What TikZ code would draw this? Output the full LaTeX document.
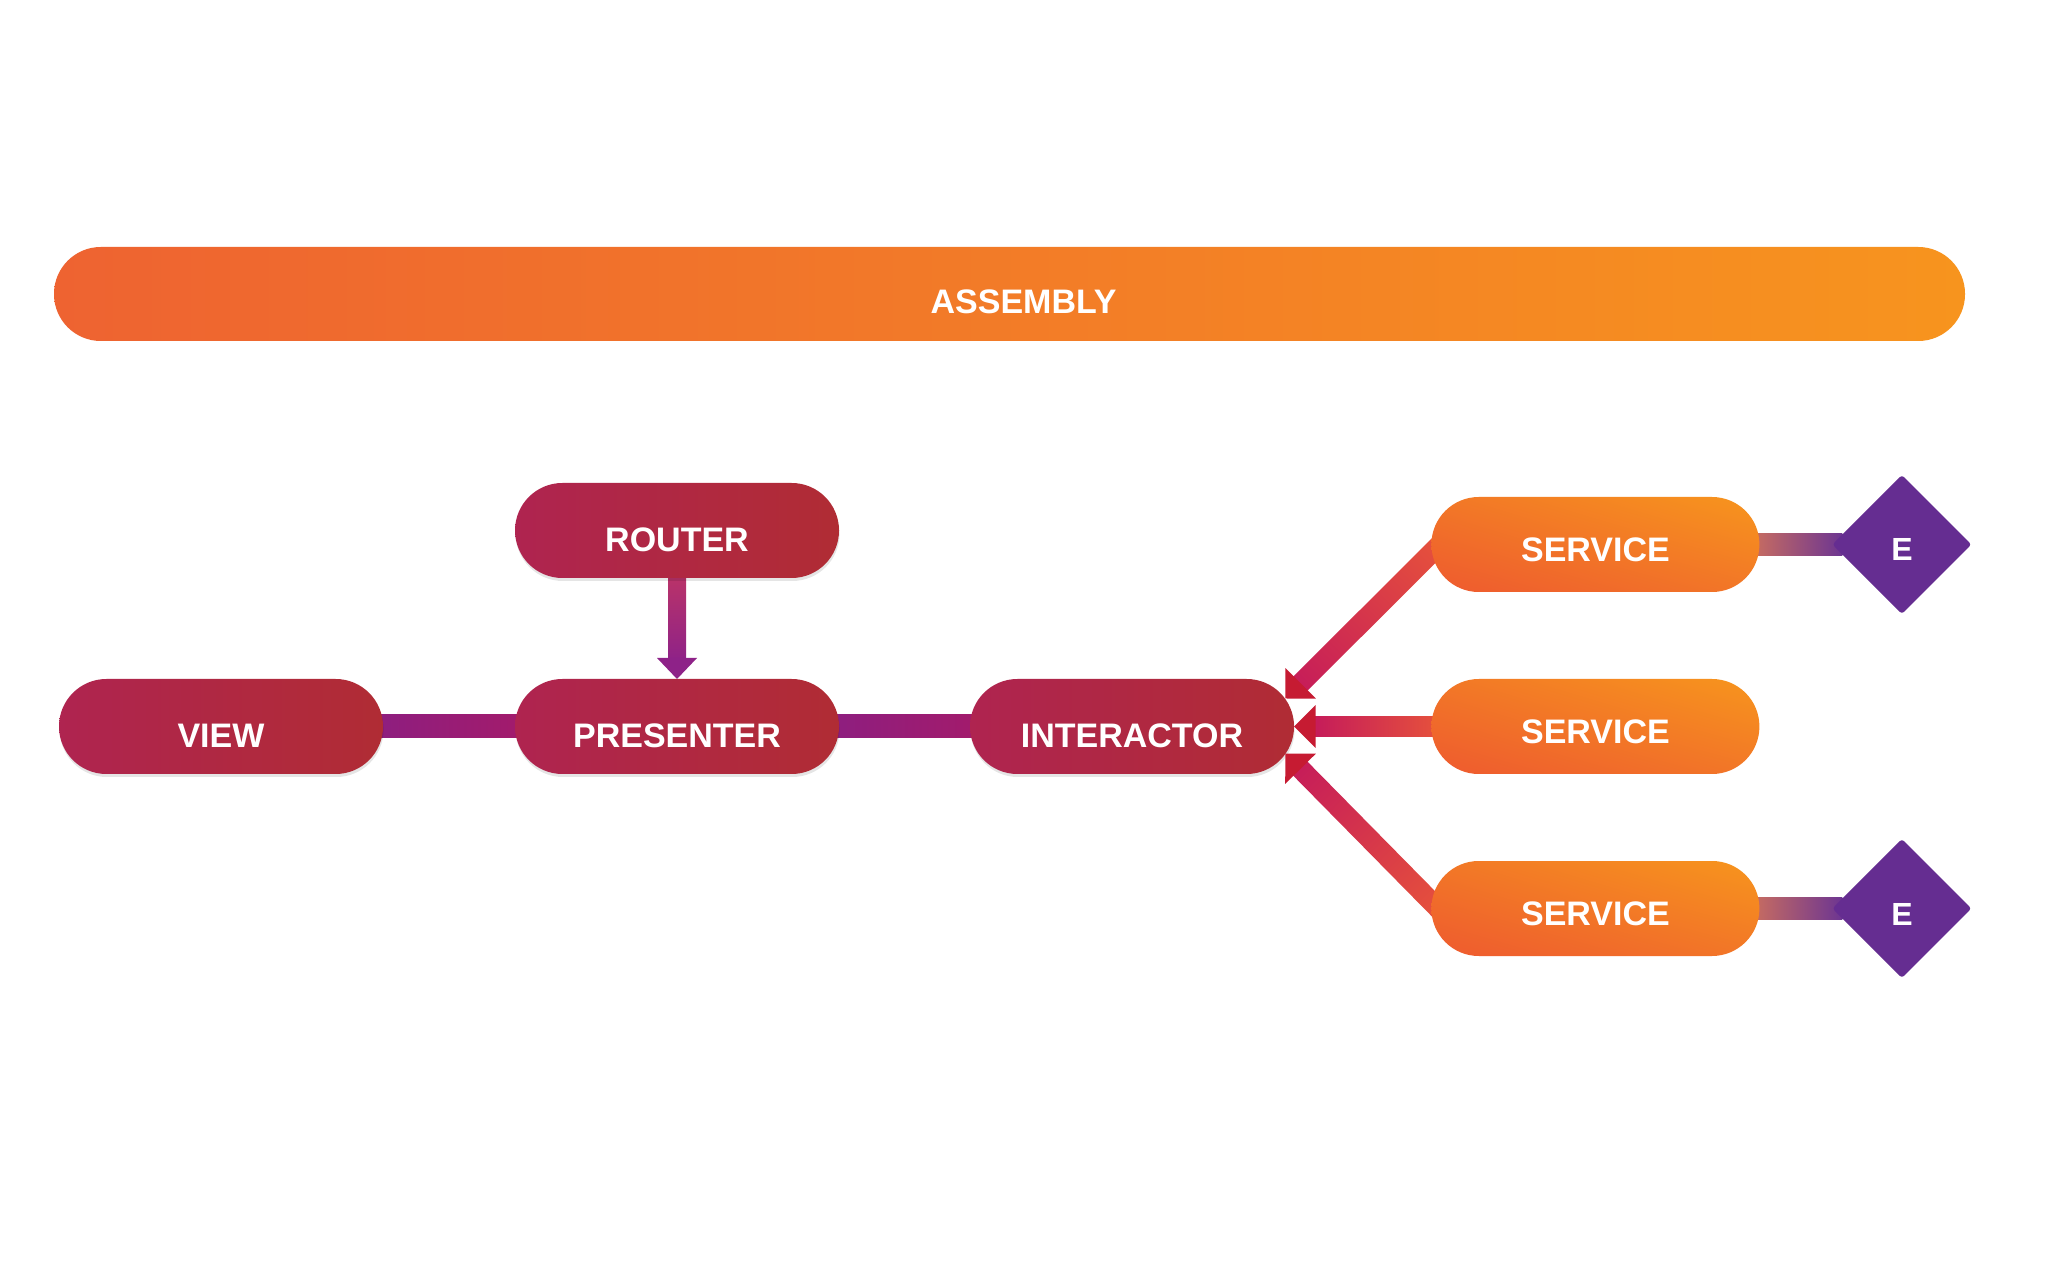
\documentclass[tikz,border=0pt]{standalone}
\usepackage{fontspec}
\setmainfont{Liberation Sans}
\usetikzlibrary{calc,positioning,backgrounds,shapes.geometric,shadows,shadings}

\definecolor{layerL}{HTML}{AF2450}
\definecolor{layerR}{HTML}{B02C34}
\definecolor{svcLL}{HTML}{EE5A2F}
\definecolor{svcMid}{HTML}{F27727}
\definecolor{svcUR}{HTML}{F7951D}
\definecolor{asmL}{HTML}{EE6331}
\definecolor{asmR}{HTML}{F7941E}
\definecolor{linkL}{HTML}{8D1E80}
\definecolor{linkR}{HTML}{A31B6B}
\definecolor{routeT}{HTML}{BC3467}
\definecolor{routeB}{HTML}{8E2288}
\definecolor{tipC}{HTML}{C41A5B}
\definecolor{midC}{HTML}{D6364A}
\definecolor{srcC}{HTML}{E8553A}
\definecolor{headred}{HTML}{C61B32}
\definecolor{entL}{HTML}{CC6F5E}
\definecolor{entR}{HTML}{6C3592}
\definecolor{entity}{HTML}{652D91}

\tikzset{
  >=latex,
  every node/.style={outer sep=0pt},
  block/.style={
    rounded corners=23.7pt,
    minimum width=162pt,
    minimum height=47.5pt,
    inner sep=0pt,
    text=white,
    font=\bfseries\fontsize{17}{17}\selectfont,
    text depth=0pt
  },
  layer/.style={
    block,
    left color=layerL, right color=layerR,
    text height=21pt,
    drop shadow={shadow xshift=0.3pt,shadow yshift=-1.5pt,opacity=0.1,fill=black}
  },
  service/.style={
    block,
    minimum width=164pt,
    lower left=svcLL, upper right=svcUR,
    upper left=svcMid, lower right=svcMid,
    text height=17pt
  },
  bar/.style={
    block,
    rounded corners=23.4pt,
    minimum width=955.5pt,
    minimum height=47pt,
    left color=asmL, right color=asmR,
    text height=20pt
  },
  entitybox/.style={
    diamond, aspect=1,
    minimum width=69.5pt, minimum height=69.5pt,
    inner sep=0pt,
    rounded corners=1.5pt,
    fill=entity, text=white,
    font=\bfseries\fontsize{16}{16}\selectfont,
    text depth=0pt, text height=16.5pt
  },
  headtip/.style={
    fill=headred
  }
}

\begin{document}
\begin{tikzpicture}
  \useasboundingbox (0,0) rectangle (1024pt,640pt);
  \begin{scope}[on background layer]
    \fill[white] (0,0) rectangle (1024pt,640pt);
  \end{scope}

  \node[bar] (assembly) at (504.75pt,493pt) {\hspace*{14pt}ASSEMBLY};

  \node[layer] (view) at (110.5pt,276.75pt) {VIEW};
  \node[layer,right=66pt of view] (presenter) {PRESENTER};
  \node[layer,right=65.5pt of presenter] (interactor) {INTERACTOR};
  \node[layer,above=50.5pt of presenter] (router) {ROUTER};

  \node[service,right=68.7pt of interactor] (s2) {SERVICE};
  \node[service,above=43.5pt of s2] (s1) {SERVICE};
  \node[service,below=43.5pt of s2] (s3) {SERVICE};

  \node[entitybox,right=36.5pt of s1] (e1) {E};
  \node[entitybox,right=36.5pt of s3] (e3) {E};

  % arrow tips at the interactor, feet at the services
  \coordinate (t1) at ($(interactor.east)+(-4.3pt,14pt)$);
  \coordinate (t2) at (interactor.east);
  \coordinate (t3) at ($(interactor.east)+(-4.3pt,-13.5pt)$);
  \coordinate (a1) at ($(s1.west)+(0,-4.2pt)$);
  \coordinate (a3) at ($(s3.west)+(0,3.4pt)$);
  \coordinate (b1) at ($(t1)!8pt!(a1)$);
  \coordinate (b2) at ($(t2)!8pt!(s2.west)$);
  \coordinate (b3) at ($(t3)!8pt!(a3)$);
  \coordinate (f1) at ($(a1)!-8pt!(t1)$);
  \coordinate (f3) at ($(a3)!-8pt!(t3)$);

  \begin{scope}[on background layer]
    \shade[left color=linkL,right color=linkR]
      ($(view.east)+(-5pt,5.75pt)$) rectangle ($(presenter.west)+(5pt,-5.75pt)$);
    \shade[left color=linkL,right color=linkR]
      ($(presenter.east)+(-5pt,5.75pt)$) rectangle ($(interactor.west)+(5pt,-5.75pt)$);

    \shade[top color=routeT,bottom color=routeB]
      ($(router.south)+(-4.5pt,3pt)$) rectangle ($(presenter.north)+(4.5pt,9pt)$);

    \shade[lower left=tipC,upper right=srcC,upper left=midC,lower right=midC]
      ($(b1)!5pt!90:(f1)$) -- ($(f1)!5pt!-90:(b1)$) -- ($(f1)!5pt!90:(b1)$) -- ($(b1)!5pt!-90:(f1)$) -- cycle;
    \shade[left color=tipC,right color=srcC]
      ($(b2)+(0,5pt)$) rectangle ($(s2.west)+(8pt,-5pt)$);
    \shade[upper left=tipC,lower right=srcC,lower left=midC,upper right=midC]
      ($(b3)!5pt!90:(f3)$) -- ($(f3)!5pt!-90:(b3)$) -- ($(f3)!5pt!90:(b3)$) -- ($(b3)!5pt!-90:(f3)$) -- cycle;

    \shade[left color=entL,right color=entR]
      ($(s1.east)+(-5pt,5.5pt)$) rectangle ($(e1.west)+(5pt,-5.5pt)$);
    \shade[left color=entL,right color=entR]
      ($(s3.east)+(-5pt,5.5pt)$) rectangle ($(e3.west)+(5pt,-5.5pt)$);
  \end{scope}

  \fill[routeB] (presenter.north) -- ++(-10pt,10.5pt) -- ++(20pt,0) -- cycle;

  \fill[headtip] (t1) -- ($(t1)!15.2pt!45:(a1)$) -- ($(t1)!15.2pt!-45:(a1)$) -- cycle;
  \fill[headtip] (t2) -- ($(t2)!15.2pt!45:(s2.west)$) -- ($(t2)!15.2pt!-45:(s2.west)$) -- cycle;
  \fill[headtip] (t3) -- ($(t3)!15.2pt!45:(a3)$) -- ($(t3)!15.2pt!-45:(a3)$) -- cycle;
\end{tikzpicture}
\end{document}
